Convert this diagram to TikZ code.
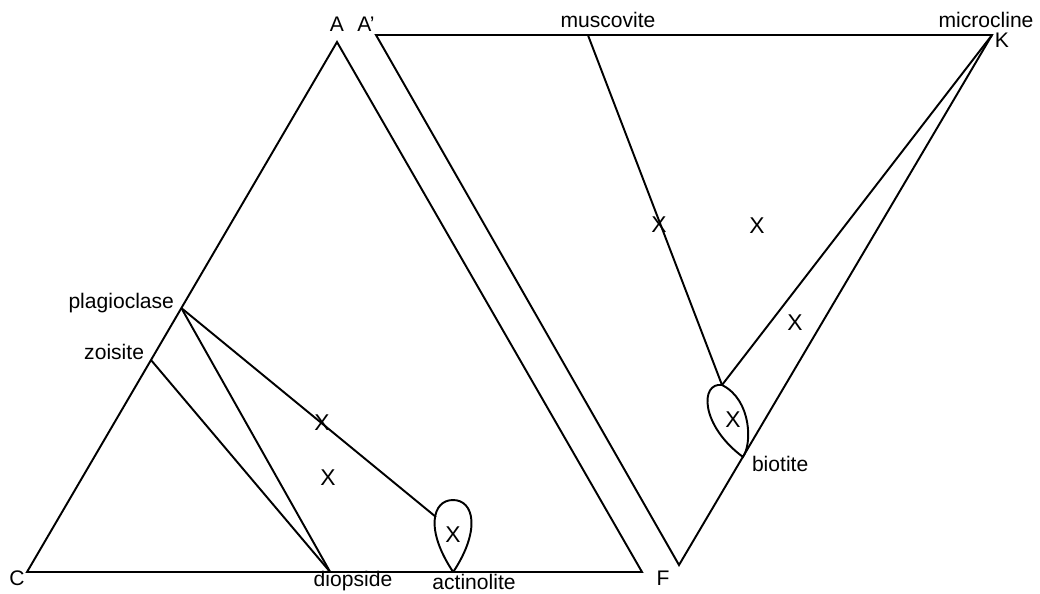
\documentclass[tikz,border=0pt]{standalone}
\usepackage{fontspec}
\setsansfont{Liberation Sans}
\usetikzlibrary{calc}

\begin{document}
\begin{tikzpicture}[
  x=0.02cm, y=-0.02cm,
  font=\sffamily\fontsize{12}{14}\selectfont,
  every node/.style={inner sep=0pt, outer sep=0pt},
  side/.style={line width=1.1pt, line join=miter},
  tie/.style={line width=1.1pt},
  phase/.style={font=\sffamily\fontsize{12}{14}\selectfont},
  cross/.style={font=\sffamily\fontsize{13}{15}\selectfont}
]
\useasboundingbox (0,0) rectangle (1040,593);

% Corners of the two triangles (pixel units, y pointing down).
\coordinate (A)  at (337,42);
\coordinate (C)  at (27,572);
\coordinate (F)  at (642,572);
\coordinate (Ap) at (376,35);
\coordinate (K)  at (992,35);
\coordinate (Fp) at (679,565);

% Phases sitting on the sides.
\coordinate (plag)  at ($(C)!0.498!(A)$);
\coordinate (zois)  at ($(C)!0.400!(A)$);
\coordinate (diop)  at ($(C)!0.493!(F)$);
\coordinate (actin) at ($(C)!0.693!(F)$);
\coordinate (musc)  at ($(Ap)!0.344!(K)$);
\coordinate (biot)  at ($(K)!0.796!(Fp)$);
\coordinate (btop)  at (722,385);
\coordinate (atie)  at (436,517);

\draw[side] (C) -- (A) -- (F) -- cycle;
\draw[side] (Ap) -- (K) -- (Fp) -- cycle;

% ACF tie lines
\draw[tie] (plag) -- (diop);
\draw[tie] (zois) -- (diop);
\draw[tie] (plag) -- (atie);
\draw[tie] (actin) .. controls (425,530) and (432,500) .. (453,500)
  .. controls (474,500) and (481,530) .. (actin);

% A'KF tie lines
\draw[tie] (musc) -- (btop);
\draw[tie] (K) -- (btop);
\draw[tie] (btop) .. controls (700,382) and (700,425) .. (biot)
  .. controls (752,445) and (752,400) .. (btop);

% Corner letters
\node (lA)  at (337,24) {A};
\node (lAp) at (366,24) {A'};
\node (lK)  at (1002,40) {K};
\node (lC)  at (17,578) {C};
\node (lF)  at (663,578) {F};

% Phase names
\node[phase, anchor=east] (lplag) at (174,303) {plagioclase};
\node[phase, anchor=east] (lzois) at (144,352) {zoisite};
\node[phase] (ldiop)  at (353,581) {diopside};
\node[phase] (lactin) at (474,582) {actinolite};
\node[phase] (lmusc)  at (608,20) {muscovite};
\node[phase] (lmicr)  at (986,20) {microcline};
\node[phase, anchor=west] (lbiot) at (752,464) {biotite};

% Plotted rocks
\node[cross] (x1) at (322,423) {X};
\node[cross] (x2) at (328,478) {X};
\node[cross] (x3) at (453,535) {X};
\node[cross] (x4) at (659,225) {X};
\node[cross] (x5) at (757,226) {X};
\node[cross] (x6) at (795,323) {X};
\node[cross] (x7) at (733,420) {X};

\end{tikzpicture}
\end{document}
